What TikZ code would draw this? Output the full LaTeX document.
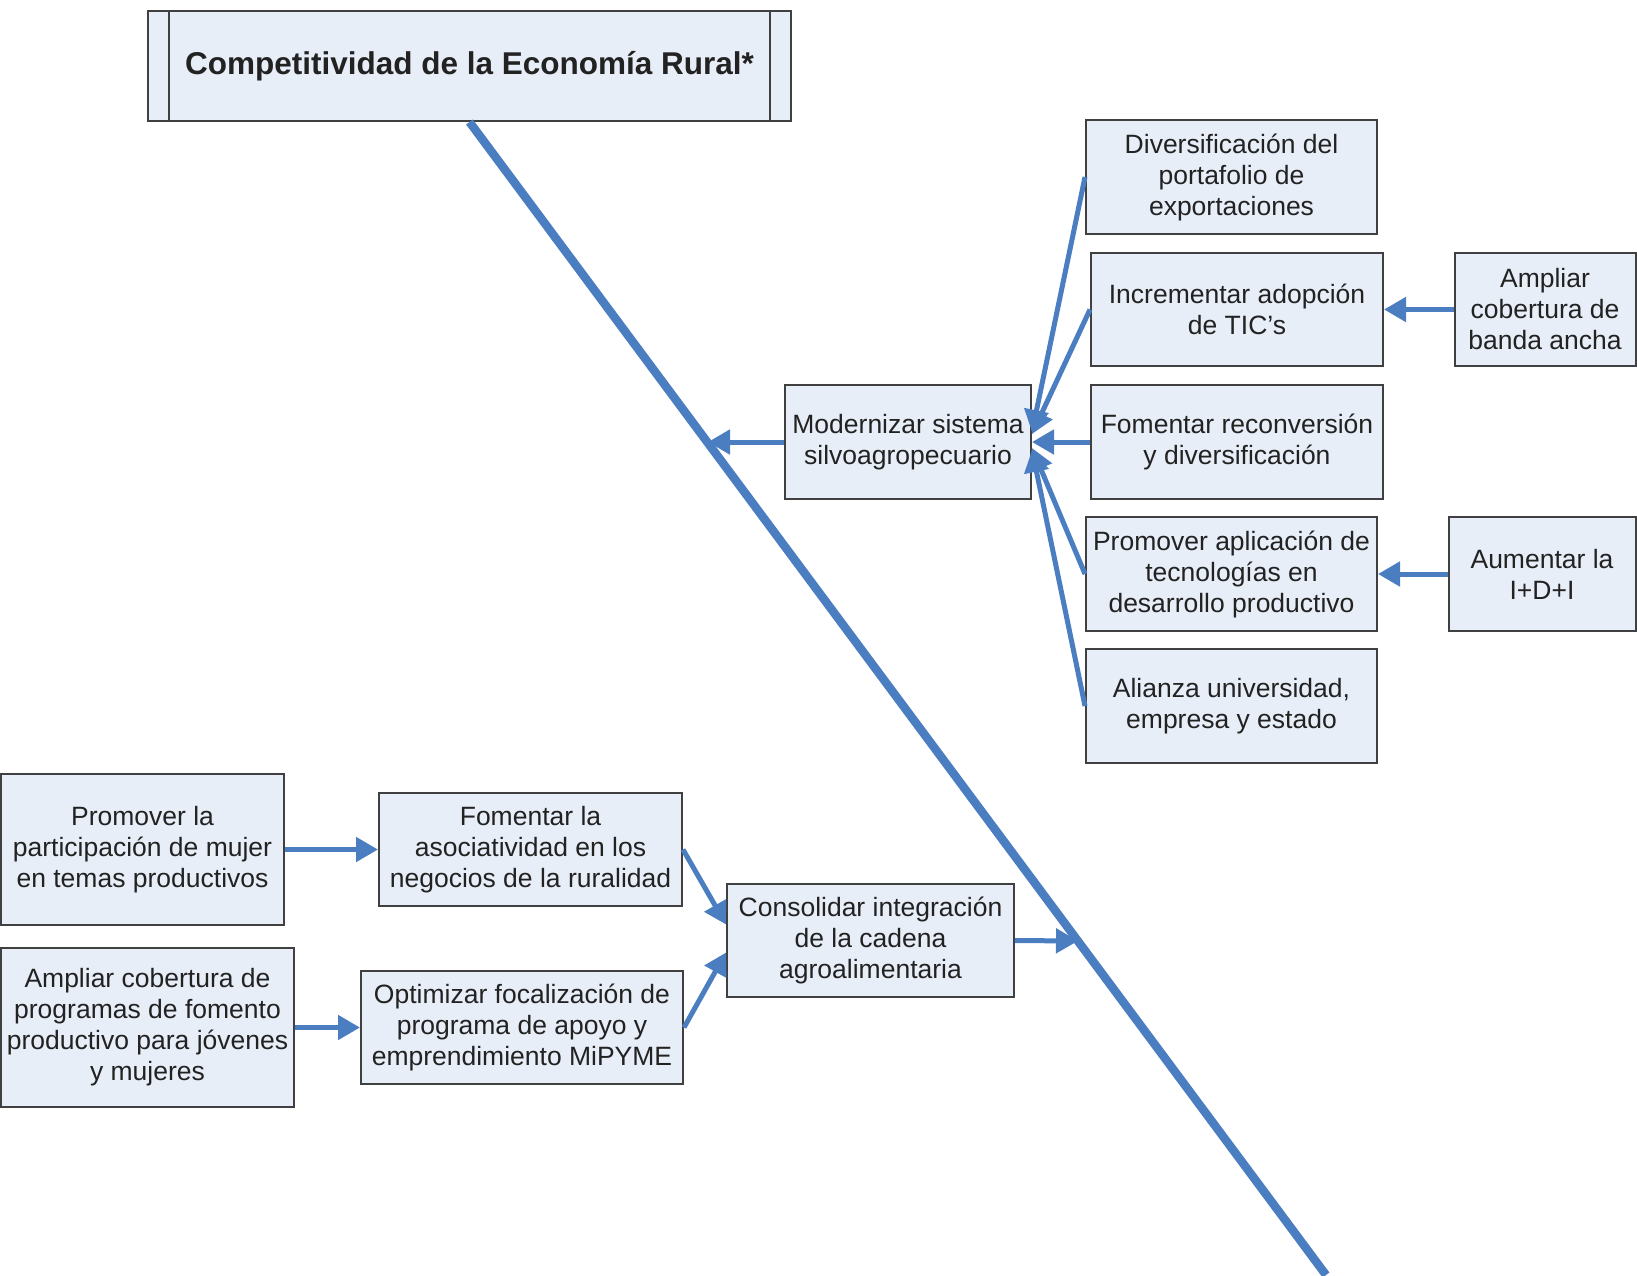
\documentclass[tikz,border=0pt]{standalone}
\usepackage{fontspec}
\setmainfont{Liberation Sans}
\usetikzlibrary{arrows.meta}
\definecolor{azul}{RGB}{74,126,193}
\definecolor{fondo}{RGB}{232,238,248}
\definecolor{borde}{RGB}{64,64,64}
\definecolor{letra}{RGB}{34,34,34}

\begin{document}
\begin{tikzpicture}[x=1pt,y=-1pt,
  meta/.style={draw=borde,fill=fondo,line width=2pt,inner sep=0pt,align=center,
    text=letra,font=\fontsize{26.5}{31}\selectfont},
  flecha/.style={azul,line width=5pt,-{Triangle[length=22pt,width=24pt]}},
  espina/.style={azul,line width=8.5pt}]
  \useasboundingbox (0,0) rectangle (1637,1275);

  % cabeza
  \node[meta,minimum width=643pt,minimum height=110pt,
    font=\bfseries\fontsize{31.5}{36}\selectfont] (titulo) at (469.5,66)
    {Competitividad de la Economía Rural*};
  \draw[borde,line width=2pt] ([xshift=22pt]titulo.north west) -- ([xshift=22pt]titulo.south west);
  \draw[borde,line width=2pt] ([xshift=-22pt]titulo.north east) -- ([xshift=-22pt]titulo.south east);
  \coordinate (cola) at (1326,1275);
  \coordinate (toqueM) at (708,442);
  \coordinate (toqueC) at (1078,941);
  \draw[espina] (titulo.south) -- (cola);

  % rama superior
  \node[meta,minimum width=246pt,minimum height=114pt] (mod) at (908,442) {Modernizar sistema\\silvoagropecuario};
  \node[meta,minimum width=291pt,minimum height=114pt] (div) at (1231.5,177) {Diversificación del\\portafolio de\\exportaciones};
  \node[meta,minimum width=292pt,minimum height=113pt] (inc) at (1237,309.5) {Incrementar adopción\\de TIC's};
  \node[meta,minimum width=181pt,minimum height=113pt] (ancha) at (1545,309.5) {Ampliar\\cobertura de\\banda ancha};
  \node[meta,minimum width=292pt,minimum height=114pt] (rec) at (1237,442) {Fomentar reconversión\\y diversificación};
  \node[meta,minimum width=291pt,minimum height=114pt] (apl) at (1231.5,574) {Promover aplicación de\\tecnologías en\\desarrollo productivo};
  \node[meta,minimum width=187pt,minimum height=114pt] (aum) at (1542,574) {Aumentar la\\I+D+I};
  \node[meta,minimum width=291pt,minimum height=114pt] (ali) at (1231.5,706) {Alianza universidad,\\empresa y estado};

  \draw[flecha] (mod.west) -- (toqueM);
  \draw[flecha] (div.west) -- ([yshift=10pt]mod.east);
  \draw[flecha] (inc.west) -- ([yshift=8pt]mod.east);
  \draw[flecha] (rec.west) -- (mod.east);
  \draw[flecha] (apl.west) -- ([yshift=-6pt]mod.east);
  \draw[flecha] (ali.west) -- ([yshift=-8pt]mod.east);
  \draw[flecha] (ancha.west) -- (inc.east);
  \draw[flecha] (aum.west) -- (apl.east);

  % rama inferior
  \node[meta,minimum width=287pt,minimum height=113pt] (con) at (870.5,940.5) {Consolidar integración\\de la cadena\\agroalimentaria};
  \node[meta,minimum width=303pt,minimum height=113pt] (aso) at (530.5,849.5) {Fomentar la\\asociatividad en los\\negocios de la ruralidad};
  \node[meta,minimum width=322pt,minimum height=113pt] (opt) at (522,1027.5) {Optimizar focalización de\\programa de apoyo y\\emprendimiento MiPYME};
  \node[meta,minimum width=283pt,minimum height=151pt] (par) at (142.5,849.5) {Promover la\\participación de mujer\\en temas productivos};
  \node[meta,minimum width=293pt,minimum height=159pt] (prog) at (147.5,1027.5) {Ampliar cobertura de\\programas de fomento\\productivo para jóvenes\\y mujeres};

  \draw[flecha] (con.east) -- (toqueC);
  \draw[flecha] (aso.east) -- ([yshift=16pt]con.west);
  \draw[flecha] (opt.east) -- ([yshift=-12pt]con.west);
  \draw[flecha] (par.east) -- (aso.west);
  \draw[flecha] (prog.east) -- (opt.west);
\end{tikzpicture}
\end{document}
